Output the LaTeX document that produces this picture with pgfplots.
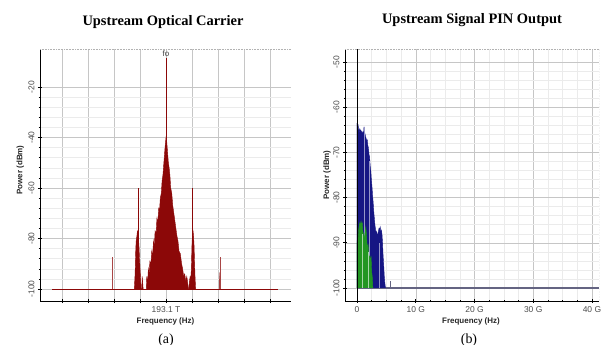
\documentclass[border=0pt]{standalone}
\usepackage{fontspec}
\setmainfont{Liberation Serif}
\newfontfamily\arial{Liberation Sans}
\usepackage{pgfplots}
\pgfplotsset{compat=1.18}
\definecolor{cred}{RGB}{140,8,8}
\definecolor{cblue}{RGB}{22,22,132}
\definecolor{cgreen}{RGB}{34,150,34}
\definecolor{cbase}{RGB}{100,100,130}
\pgfplotsset{
  specax/.style={
    scale only axis, anchor=south west,
    axis lines*=left, axis line style={-, black, line width=0.7pt},
    tick align=center, tick style={black, line width=0.5pt},
    major tick length=4bp, minor tick length=2.5bp,
    grid=both, major grid style={gray!45, line width=0.4pt}, minor grid style={gray!16, line width=0.4pt},
    /pgf/number format/assume math mode=true,
    ticklabel style={font=\arial\fontsize{8.5}{10}\selectfont, text=black!70},
    yticklabel style={rotate=90, anchor=south},
    label style={font=\arial\bfseries\fontsize{8}{9}\selectfont, text=black!85},
    xlabel={Frequency (Hz)}, ylabel={Power (dBm)},
    clip=true,
  }
}
\begin{document}
\begin{tikzpicture}
\useasboundingbox (0,0) rectangle (612bp,345bp);
% ---------------- (a) ----------------
\begin{axis}[specax,
  at={(40bp,44bp)}, width=251bp, height=252bp,
  xmin=-4.85, xmax=4.81, ymin=-104.75, ymax=-5,
  xtick={-4,...,4}, xticklabels={,,,,193.1 T,,,,},
  ytick={-100,-80,...,-20}, minor y tick num=4,
  xlabel style={at={(axis description cs:0.5,-0.083)}, anchor=center},
  ylabel style={at={(axis description cs:-0.078,0.52)}, anchor=center},
]
\addplot[cred, line width=0.5pt] coordinates {(-4.38,-100) (4.3,-100)};
% central carrier spectrum
\addplot[cred, fill=cred, line width=0.4pt] coordinates {
(-0.76,-100)(-0.74,-95)(-0.71,-98)(-0.68,-92)(-0.65,-94)(-0.62,-89)(-0.58,-90)(-0.55,-85)
(-0.52,-87)(-0.48,-81)(-0.45,-83)(-0.42,-77)(-0.38,-78)(-0.35,-72)(-0.32,-74)(-0.28,-68)
(-0.25,-69)(-0.22,-64)(-0.18,-62)(-0.15,-57)(-0.12,-55)(-0.09,-51)(-0.06,-47)(-0.03,-43)
(0,-40)(0.03,-42)(0.06,-46)(0.09,-50)(0.12,-52)(0.15,-55)(0.18,-60)(0.22,-62)(0.26,-67)
(0.30,-70)(0.34,-73)(0.38,-76)(0.42,-79)(0.46,-81)(0.50,-85)(0.55,-86)(0.60,-90)(0.64,-92)
(0.68,-95)(0.72,-94)(0.76,-97)(0.80,-95)(0.84,-98)(0.87,-100)};
% sidebands
\addplot[cred, fill=cred, line width=0.4pt] coordinates {
(-1.22,-100)(-1.19,-94)(-1.17,-86)(-1.15,-81)(-1.12,-79)(-1.10,-77)(-1.08,-78)(-1.06,-80)
(-1.04,-83)(-1.02,-88)(-1.00,-92)(-0.98,-96)(-0.96,-100)(-0.93,-100)(-0.92,-95)(-0.90,-97)(-0.88,-100)};
\addplot[cred, fill=cred, line width=0.4pt] coordinates {
(0.88,-100)(0.90,-97)(0.93,-95)(0.96,-96)(0.98,-90)(1.00,-82)(1.02,-78)(1.04,-77)(1.06,-79)
(1.08,-83)(1.10,-90)(1.12,-96)(1.14,-100)};
\addplot[cred, fill=cred, line width=0.4pt] coordinates {(2.06,-100)(2.07,-93.5)(2.09,-93.5)(2.10,-100)};
% spectral lines
\addplot[cred, line width=0.8pt] coordinates {(0,-100) (0,-8.5)};
\addplot[cred, line width=0.6pt] coordinates {(-1.05,-100) (-1.05,-60)};
\addplot[cred, line width=0.6pt] coordinates {(1.03,-100) (1.03,-60)};
\addplot[cred!75, line width=0.5pt] coordinates {(-2.08,-100) (-2.08,-87.5)};
\addplot[cred!75, line width=0.5pt] coordinates {(2.08,-100) (2.08,-87.5)};
\node[font=\arial\fontsize{8}{9}\selectfont, text=black!75] at (axis cs:0,-6.7) {fo};
\draw[gray!60, densely dotted, line width=0.6pt] (rel axis cs:0,1) -- (rel axis cs:1,1) -- (rel axis cs:1,0);
\end{axis}
% ---------------- (b) ----------------
\begin{axis}[specax,
  at={(345bp,44bp)}, width=254bp, height=252bp,
  xmin=-2.04, xmax=41.2, ymin=-102.9, ymax=-47.1,
  xtick={0,10,20,30,40}, xticklabels={0,10 G,20 G,30 G,40 G}, minor x tick num=3,
  ytick={-100,-90,...,-50}, minor y tick num=4,
  xlabel style={at={(axis description cs:0.496,-0.083)}, anchor=center},
  ylabel style={at={(axis description cs:-0.071,0.5)}, anchor=center},
]
\addplot[cbase, line width=1.3pt] coordinates {(0,-100) (41.2,-100)};
\addplot[cblue, fill=cblue, line width=0.4pt] coordinates {
(0,-100)(0,-63.5)(0.1,-64.5)(0.2,-64)(0.3,-65.2)(0.4,-64.8)(0.5,-65.6)(0.6,-65)(0.7,-65.8)
(0.8,-65.3)(0.9,-66)(1.0,-65.5)(1.1,-66.2)(1.2,-64.3)(1.25,-66)(1.35,-65.8)(1.45,-66.5)
(1.55,-66.8)(1.65,-67.5)(1.75,-67.2)(1.85,-68.5)(1.95,-69)(2.05,-70.5)(2.15,-71)(2.25,-73)
(2.35,-74)(2.45,-76)(2.55,-77.5)(2.65,-79.5)(2.75,-81)(2.85,-83)(2.95,-84.5)(3.05,-86)
(3.15,-87)(3.25,-88)(3.35,-87.5)(3.45,-88.5)(3.55,-88)(3.65,-87.5)(3.75,-86.8)(3.85,-87)
(3.95,-86.5)(4.05,-87.5)(4.15,-87.2)(4.25,-88)(4.35,-90)(4.45,-93)(4.55,-95)(4.65,-97.5)
(4.75,-99)(4.85,-100)};
\addplot[cblue!45, line width=0.5pt] coordinates {(1.2,-100) (1.2,-64.3)};
\addplot[cblue!45, line width=0.4pt] coordinates {(2.0,-100) (2.0,-72)};
\addplot[cblue!45, line width=0.4pt] coordinates {(3.7,-100) (3.7,-90)};
\addplot[cgreen, fill=cgreen, line width=0.4pt] coordinates {
(0,-100)(0,-90)(0.1,-88.5)(0.2,-89)(0.3,-87)(0.4,-86)(0.5,-85.5)(0.6,-86.5)(0.7,-85.3)
(0.8,-86)(0.9,-85.6)(1.0,-87.5)(1.1,-88)(1.2,-89)(1.3,-88.5)(1.4,-87.5)(1.5,-86.5)(1.6,-88)
(1.7,-90)(1.8,-91)(1.9,-90.5)(2.0,-92.5)(2.1,-93.5)(2.2,-93)(2.3,-94.5)(2.4,-93)(2.5,-96.5)
(2.6,-97.5)(2.7,-100)};
\addplot[cgreen!40, line width=0.4pt] coordinates {(0.9,-100) (0.9,-88)};
\addplot[cgreen!40, line width=0.4pt] coordinates {(1.9,-100) (1.9,-92)};
\addplot[cbase, line width=0.5pt] coordinates {(5.6,-100) (5.6,-98.5)};
\draw[black, line width=0.8pt] (axis cs:0,-102.9) -- (axis cs:0,-47.1);
\draw[gray!60, densely dotted, line width=0.6pt] (rel axis cs:0,1) -- (rel axis cs:1,1) -- (rel axis cs:1,0);
\end{axis}
% titles and captions
\node[font=\bfseries\fontsize{14.5}{16}\selectfont] at (163bp,323bp) {Upstream Optical Carrier};
\node[font=\bfseries\fontsize{14.5}{16}\selectfont] at (472bp,325bp) {Upstream Signal PIN Output};
\node[font=\fontsize{14}{16}\selectfont] at (166bp,5bp) {(a)};
\node[font=\fontsize{14}{16}\selectfont] at (469bp,5bp) {(b)};
\end{tikzpicture}
\end{document}
